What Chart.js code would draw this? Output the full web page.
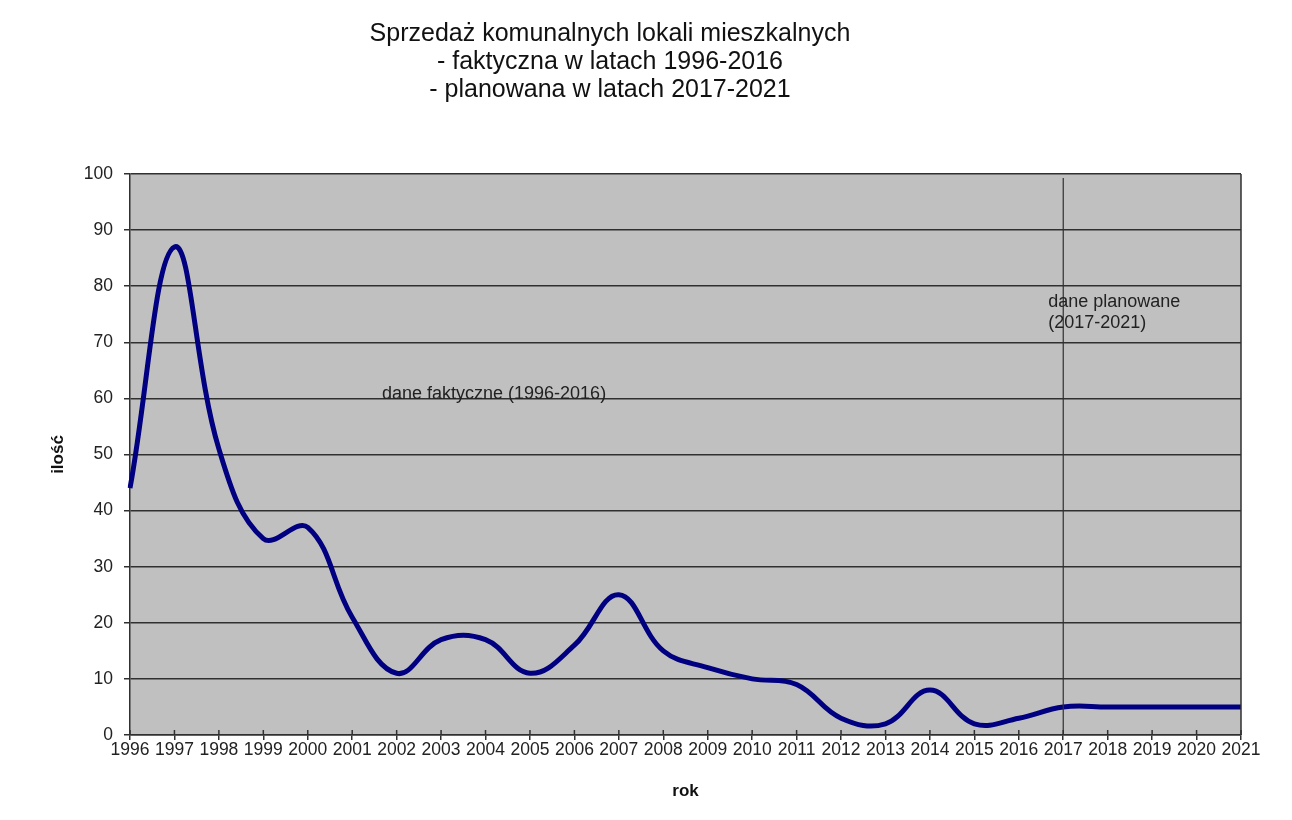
<!DOCTYPE html>
<html>
<head>
<meta charset="utf-8">
<script src="https://cdn.jsdelivr.net/npm/chart.js@4"></script>
<style>
  html, body { margin: 0; padding: 0; background: #fff; }
  #wrap { width: 1292px; height: 820px; }
</style>
</head>
<body>
<div id="wrap"><canvas id="chart" width="1292" height="820"></canvas></div>
<script>
// years and sales (actual 1996-2016, planned 2017-2021)
const years = ['1996', '1997', '1998', '1999', '2000', '2001', '2002', '2003', '2004', '2005', '2006', '2007', '2008',
  '2009', '2010', '2011', '2012', '2013', '2014', '2015', '2016', '2017', '2018', '2019', '2020', '2021'];
const sales = [44, 87, 51, 35, 37, 21, 11, 17, 17, 11, 16, 25, 15, 12, 10, 9, 3, 2, 8, 2, 3, 5, 5, 5, 5, 5];
const yTicks = [0, 10, 20, 30, 40, 50, 60, 70, 80, 90, 100];
const titleLines = ['Sprzedaż komunalnych lokali mieszkalnych', '- faktyczna w latach 1996-2016', '- planowana w latach 2017-2021'];
const splitYear = '2017';

const FONT = '"Liberation Sans", Arial, sans-serif';
const LINE = '#303030';

// plot background, frame, inner tick marks, split line and notes
const decor = {
  id: 'decor',
  beforeDraw(chart) {
    const { ctx, chartArea: a } = chart;
    ctx.save();
    ctx.fillStyle = '#c0c0c0';
    ctx.fillRect(a.left, a.top, a.right - a.left, a.bottom - a.top);
    ctx.restore();
  },
  afterDatasetsDraw(chart) {
    const { ctx, chartArea: a, scales: { x, y } } = chart;
    ctx.save();
    ctx.strokeStyle = LINE;
    ctx.lineWidth = 1.5;
    // right frame
    ctx.beginPath();
    ctx.moveTo(a.right, a.top);
    ctx.lineTo(a.right, a.bottom);
    ctx.stroke();
    // tick marks poking up into the plot
    years.forEach((yr, i) => {
      const px = x.getPixelForValue(i);
      ctx.beginPath();
      ctx.moveTo(px, a.bottom);
      ctx.lineTo(px, a.bottom - 5);
      ctx.stroke();
    });
    // split between actual and planned data
    const sx = x.getPixelForValue(years.indexOf(splitYear));
    ctx.lineWidth = 1.2;
    ctx.beginPath();
    ctx.moveTo(sx, y.getPixelForValue(99.3));
    ctx.lineTo(sx, a.bottom);
    ctx.stroke();

    ctx.fillStyle = '#222';
    ctx.font = '18px ' + FONT;
    ctx.textBaseline = 'alphabetic';
    ctx.textAlign = 'left';
    ctx.fillText('dane faktyczne (1996-2016)', x.getPixelForValue(5.67), y.getPixelForValue(60) + 1);
    ctx.fillText('dane planowane', sx - 15, y.getPixelForValue(76.3));
    ctx.fillText('(2017-2021)', sx - 15, y.getPixelForValue(72.5));
    ctx.restore();
  }
};

new Chart(document.getElementById('chart'), {
  type: 'line',
  data: {
    labels: years,
    datasets: [{
      data: sales,
      borderColor: '#000080',
      borderWidth: 5,
      pointRadius: 0,
      tension: 0.4,
      fill: false
    }]
  },
  options: {
    responsive: false,
    animation: false,
    layout: { padding: { left: -21, right: 51, top: 0, bottom: 0 } },
    plugins: {
      legend: { display: false },
      tooltip: { enabled: false },
      title: {
        display: true,
        text: titleLines,
        color: '#111',
        font: { family: FONT, size: 25, weight: 'normal', lineHeight: 1.12 },
        padding: { top: 20, bottom: 70 }
      }
    },
    scales: {
      x: {
        type: 'category',
        offset: false,
        afterFit: s => { s.height = 85; },
        grid: { drawOnChartArea: false, drawTicks: true, tickLength: 5, color: LINE, lineWidth: 1.5 },
        border: { color: LINE, width: 1.5 },
        ticks: {
          color: '#222', font: { family: FONT, size: 17.5, lineHeight: 1 }, padding: 1,
          maxRotation: 0, autoSkip: false
        },
        title: {
          display: true, text: 'rok', color: '#111',
          font: { family: FONT, size: 17, weight: 'bold' },
          padding: { top: 0, bottom: 18 }
        }
      },
      y: {
        min: 0,
        max: 100,
        afterFit: s => { s.width = 151; },
        afterBuildTicks: s => { s.ticks = yTicks.map(v => ({ value: v })); },
        grid: { color: LINE, lineWidth: 1.5, tickLength: 6 },
        border: { color: LINE, width: 1.5 },
        ticks: { color: '#222', font: { family: FONT, size: 17.5 }, padding: 11 },
        title: {
          display: true, text: 'ilość', color: '#111',
          font: { family: FONT, size: 17, weight: 'bold' },
          padding: { top: 69, bottom: 0 }
        }
      }
    }
  },
  plugins: [decor]
});
</script>
</body>
</html>
